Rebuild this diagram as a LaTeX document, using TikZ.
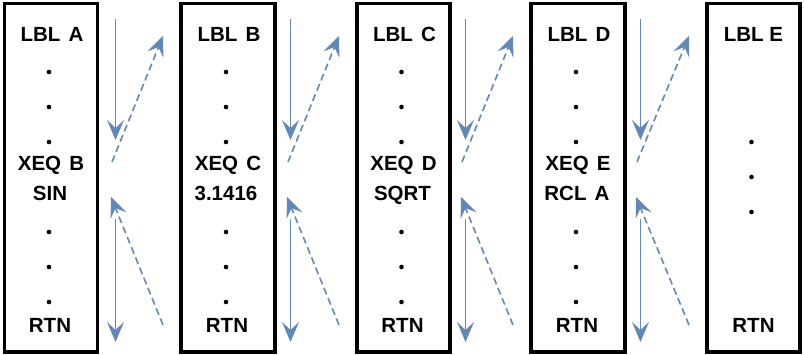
\documentclass[tikz,border=0pt]{standalone}
\usepackage{fontspec}
\setmainfont{Liberation Sans}
\usetikzlibrary{arrows.meta}
\definecolor{arr}{RGB}{100,136,182}
\tikzset{
  boxst/.style={draw=black, line width=3.4pt, rectangle, inner sep=0pt, minimum height=348.5pt},
  txt/.style={font=\fontsize{20.5}{24}\selectfont\bfseries, anchor=base, inner sep=0pt, text=black},
  dotst/.style={circle, fill=black, inner sep=0pt, minimum size=4.6pt},
  solidarr/.style={draw=arr, line width=1.6pt, -{Stealth[length=20pt, width=17pt, inset=8pt]}},
  dasharr/.style={draw=arr, line width=1.6pt, dash pattern=on 7pt off 4pt, -{Stealth[length=20pt, width=17pt, inset=8pt]}}
}
\newcommand{\wsp}{\hspace{0.4em}}
\begin{document}
\begin{tikzpicture}[x=1pt, y=-1pt]
\useasboundingbox (0,0) rectangle (804,355);
% boxes
\node[boxst, minimum width=93pt] (b1) at (51,177.75) {};
\node[boxst, minimum width=94pt] (b2) at (228,177.75) {};
\node[boxst, minimum width=93pt] (b3) at (403.5,177.75) {};
\node[boxst, minimum width=94pt] (b4) at (578,177.75) {};
\node[boxst, minimum width=93pt] (b5) at (753.5,177.75) {};
% box 1
\node[txt] (l1) at (52,41.5) {LBL\wsp A};
\node[txt] (x1) at (51,171) {XEQ\wsp B};
\node[txt] (s1) at (50,200.5) {SIN};
\node[txt] (r1) at (50,332.5) {RTN};
% box 2
\node[txt] (l2) at (229,41.5) {LBL\wsp B};
\node[txt] (x2) at (228,171) {XEQ\wsp C};
\node[txt] (s2) at (226,200.5) {3.1416};
\node[txt] (r2) at (227,332.5) {RTN};
% box 3
\node[txt] (l3) at (404.5,41.5) {LBL\wsp C};
\node[txt] (x3) at (403.5,171) {XEQ\wsp D};
\node[txt] (s3) at (402.5,200.5) {SQRT};
\node[txt] (r3) at (402.5,332.5) {RTN};
% box 4
\node[txt] (l4) at (579,41.5) {LBL\wsp D};
\node[txt] (x4) at (578,171) {XEQ\wsp E};
\node[txt] (s4) at (577,200.5) {RCL\wsp A};
\node[txt] (r4) at (577,332.5) {RTN};
% box 5
\node[txt] (l5) at (753.5,41.5) {LBL E};
\node[txt] (r5) at (753.5,332.5) {RTN};
% dots
\foreach \cx/\n in {49/1,226/2,401.5/3,576/4}{
  \foreach \cy/\m in {72/a,107/b,142/c,232/d,267/e,302/f}{
    \node[dotst] (d\n\m) at (\cx,\cy) {};
  }
}
\foreach \cy/\m in {142/a,177/b,212/c}{
  \node[dotst] (d5\m) at (751.5,\cy) {};
}
% arrows
\foreach \g/\sx/\ds/\dt in {1/115.5/112/163, 2/290.5/288/339, 3/465.5/462/513, 4/640.5/637/689}{
  \coordinate (sa\g) at (\sx,19);
  \coordinate (sb\g) at (\sx,140);
  \coordinate (da\g) at (\ds,162);
  \coordinate (db\g) at (\dt,36);
  \coordinate (ra\g) at (\dt,325);
  \coordinate (rb\g) at (\ds-1,197);
  \coordinate (sc\g) at (\sx,219);
  \coordinate (sd\g) at (\sx,342);
  \draw[solidarr] (sa\g) -- (sb\g);
  \draw[dasharr] (da\g) -- (db\g);
  \draw[dasharr] (ra\g) -- (rb\g);
  \draw[solidarr] (sc\g) -- (sd\g);
}
\end{tikzpicture}
\end{document}
